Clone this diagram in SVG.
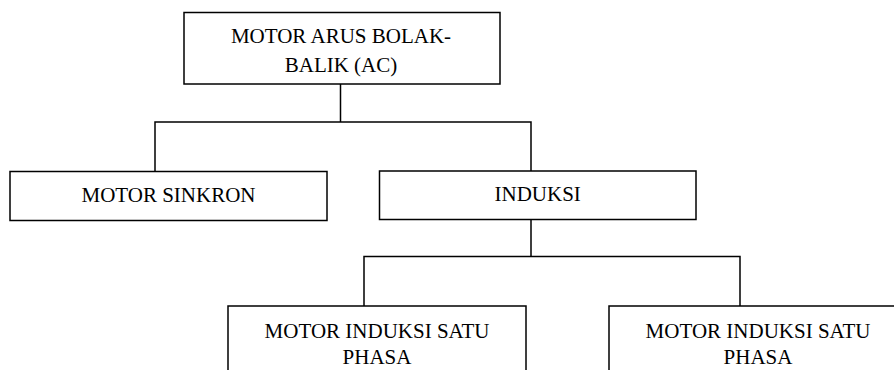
<svg xmlns="http://www.w3.org/2000/svg" width="894" height="370" viewBox="0 0 894 370">
<style>
.box{fill:#fff;stroke:#000;stroke-width:1.5}
.conn{fill:none;stroke:#000;stroke-width:1.5}
.t{font-size:21px;fill:#000;text-anchor:middle}
</style>
<rect width="894" height="370" fill="#fff"/>
<g id="connectors">
<path class="conn" d="M340.5 84 V122 M155 171.5 V122 H531 V171"/>
<path class="conn" d="M531 219.5 V256.5 M364 306 V256.5 H740 V306"/>
</g>
<g font-family="'Liberation Serif', 'Times New Roman', 'DejaVu Serif', serif">
<g id="node-ac">
<rect class="box" x="184" y="12.5" width="316" height="71.5"/>
<text class="t" x="341" y="43.3">MOTOR ARUS BOLAK-</text>
<text class="t" x="341" y="71.7">BALIK (AC)</text>
</g>
<g id="node-sinkron">
<rect class="box" x="10" y="171.5" width="317" height="49"/>
<text class="t" x="168.5" y="201.7">MOTOR SINKRON</text>
</g>
<g id="node-induksi">
<rect class="box" x="379.5" y="171" width="316.5" height="48.5"/>
<text class="t" x="537.7" y="201.2">INDUKSI</text>
</g>
<g id="node-satu-phasa-1">
<rect class="box" x="228" y="306" width="298" height="80"/>
<text class="t" x="377" y="337.5">MOTOR INDUKSI SATU</text>
<text class="t" x="377" y="364">PHASA</text>
</g>
<g id="node-satu-phasa-2">
<rect class="box" x="609" y="306" width="298" height="80"/>
<text class="t" x="758" y="337.5">MOTOR INDUKSI SATU</text>
<text class="t" x="758" y="364">PHASA</text>
</g>
</g>
</svg>
